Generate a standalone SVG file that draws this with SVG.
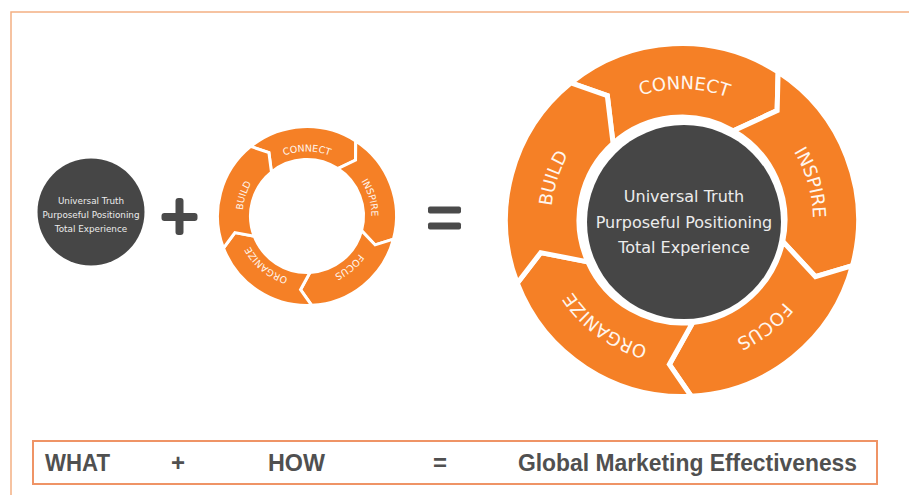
<svg xmlns="http://www.w3.org/2000/svg" width="909" height="495" viewBox="0 0 909 495">
  <style>
    .seg-big { fill: #f58026; stroke: #ffffff; stroke-width: 5; stroke-linejoin: miter; }
    .seg-small { fill: #f58026; stroke: #ffffff; stroke-width: 3; stroke-linejoin: miter; }
    .core { fill: #464646; }
    .core-text { font-family: "DejaVu Sans", Verdana, sans-serif; fill: #ececec; text-anchor: middle; }
    .seg-label-big { font-family: "DejaVu Sans", Verdana, sans-serif; font-size: 18px; fill: #fff6ee; text-anchor: middle; }
    .seg-label-small { font-family: "DejaVu Sans", Verdana, sans-serif; font-size: 9.5px; fill: #fff6ee; text-anchor: middle; }
    .op { fill: #4a4a4a; }
    .eq-text { font-family: "Liberation Sans", Arial, sans-serif; font-weight: bold; font-size: 24px; fill: #505050; }
  </style>
  <defs>
    <!-- baseline circles for the ring labels, starting at the bottom and running clockwise -->
    <path id="arc-big" d="M 682 351 A 131 131 0 0 1 682 89 A 131 131 0 0 1 682 351"/>
    <path id="arc-small" d="M 307 280.5 A 64.5 64.5 0 0 1 307 151.5 A 64.5 64.5 0 0 1 307 280.5"/>
  </defs>

  <rect x="0" y="0" width="909" height="495" fill="#ffffff"/>

  <!-- page frame -->
  <g id="frame" fill="none" stroke="#f4b083" stroke-width="1.5">
    <polyline points="11,495 11,12 909,12"/>
  </g>

  <!-- WHAT: core circle -->
  <g id="what-core">
    <circle class="core" cx="91" cy="212" r="53.5"/>
    <text class="core-text" font-size="8.8" x="91" y="204">Universal Truth</text>
    <text class="core-text" font-size="8.8" x="91" y="217.5">Purposeful Positioning</text>
    <text class="core-text" font-size="8.8" x="91" y="231.5">Total Experience</text>
  </g>

  <!-- plus sign -->
  <g id="plus" class="op">
    <rect x="161.5" y="213" width="36" height="8" rx="3"/>
    <rect x="175.5" y="198" width="8" height="37" rx="3"/>
  </g>

  <!-- HOW: small cycle ring -->
  <g id="how-ring">
    <g id="how-connect">
      <path class="seg-small" d="M 250.68 146.45 A 89.5 89.5 0 0 1 355.74 140.94 L 355.55 160.15 L 337.77 168.61 A 56.5 56.5 0 0 0 271.44 172.09 L 268.89 152.57 Z"/>
      <text class="seg-label-small"><textPath href="#arc-small" startOffset="50%">CONNECT</textPath></text>
    </g>
    <g id="how-inspire">
      <path class="seg-small" d="M 355.74 140.94 A 89.5 89.5 0 0 1 393.45 239.16 L 375.12 244.91 L 361.57 230.62 A 56.5 56.5 0 0 0 337.77 168.61 L 355.55 160.15 Z"/>
      <text class="seg-label-small"><textPath href="#arc-small" startOffset="70.5%">INSPIRE</textPath></text>
    </g>
    <g id="how-focus">
      <path class="seg-small" d="M 393.45 239.16 A 89.5 89.5 0 0 1 311.68 305.37 L 300.55 289.72 L 309.95 272.42 A 56.5 56.5 0 0 0 361.57 230.62 L 375.12 244.91 Z"/>
      <text class="seg-label-small"><textPath href="#arc-small" startOffset="89%">FOCUS</textPath></text>
    </g>
    <g id="how-organize">
      <path class="seg-small" d="M 311.68 305.37 A 89.5 89.5 0 0 1 223.44 248.08 L 234.89 232.65 L 254.25 236.25 A 56.5 56.5 0 0 0 309.95 272.42 L 300.55 289.72 Z"/>
      <text class="seg-label-small"><textPath href="#arc-small" startOffset="11%">ORGANIZE</textPath></text>
    </g>
    <g id="how-build">
      <path class="seg-small" d="M 223.44 248.08 A 89.5 89.5 0 0 1 250.68 146.45 L 268.89 152.57 L 271.44 172.09 A 56.5 56.5 0 0 0 254.25 236.25 L 234.89 232.65 Z"/>
      <text class="seg-label-small"><textPath href="#arc-small" startOffset="30%">BUILD</textPath></text>
    </g>
  </g>

  <!-- equals sign -->
  <g id="equals" class="op">
    <rect x="428" y="206.5" width="33" height="7" rx="2"/>
    <rect x="428" y="222.5" width="33" height="7" rx="2"/>
  </g>

  <!-- RESULT: full cycle around the core -->
  <g id="result-ring">
    <g id="result-connect">
      <path class="seg-big" d="M 570.93 82.84 A 176.5 176.5 0 0 1 778.12 71.97 L 777.13 110.57 L 733.5 130.8 A 103 103 0 0 0 613.08 143.46 L 607.32 95.71 Z"/>
      <text class="seg-label-big"><textPath href="#arc-big" startOffset="50.3%">CONNECT</textPath></text>
    </g>
    <g id="result-inspire">
      <path class="seg-big" d="M 778.12 71.97 A 176.5 176.5 0 0 1 852.48 265.68 L 815.47 276.65 L 782.74 241.41 A 103 103 0 0 0 733.5 130.8 L 777.13 110.57 Z"/>
      <text class="seg-label-big"><textPath href="#arc-big" startOffset="70.5%">INSPIRE</textPath></text>
    </g>
    <g id="result-focus">
      <path class="seg-big" d="M 852.48 265.68 A 176.5 176.5 0 0 1 691.23 396.25 L 669.36 364.45 L 692.76 322.43 A 103 103 0 0 0 782.74 241.41 L 815.47 276.65 Z"/>
      <text class="seg-label-big"><textPath href="#arc-big" startOffset="89.5%">FOCUS</textPath></text>
    </g>
    <g id="result-organize">
      <path class="seg-big" d="M 691.23 396.25 A 176.5 176.5 0 0 1 517.22 283.26 L 540.71 252.63 L 587.91 261.89 A 103 103 0 0 0 692.76 322.43 L 669.36 364.45 Z"/>
      <text class="seg-label-big"><textPath href="#arc-big" startOffset="10%">ORGANIZE</textPath></text>
    </g>
    <g id="result-build">
      <path class="seg-big" d="M 517.22 283.26 A 176.5 176.5 0 0 1 570.93 82.84 L 607.32 95.71 L 613.08 143.46 A 103 103 0 0 0 587.91 261.89 L 540.71 252.63 Z"/>
      <text class="seg-label-big"><textPath href="#arc-big" startOffset="30%">BUILD</textPath></text>
    </g>
    <g id="result-core">
      <circle class="core" cx="684" cy="222" r="97"/>
      <text class="core-text" font-size="16" x="684" y="201.5">Universal Truth</text>
      <text class="core-text" font-size="16" x="684" y="227.5">Purposeful Positioning</text>
      <text class="core-text" font-size="16" x="684" y="253">Total Experience</text>
    </g>
  </g>

  <!-- equation strip -->
  <g id="equation">
    <rect x="33" y="441" width="844" height="43" fill="#ffffff" stroke="#ef9466" stroke-width="2"/>
    <text class="eq-text" x="45" y="471" textLength="65" lengthAdjust="spacingAndGlyphs">WHAT</text>
    <text class="eq-text" x="178" y="471" text-anchor="middle">+</text>
    <text class="eq-text" x="268" y="471" textLength="57" lengthAdjust="spacingAndGlyphs">HOW</text>
    <text class="eq-text" x="440" y="471" text-anchor="middle">=</text>
    <text class="eq-text" x="518" y="471" textLength="339" lengthAdjust="spacingAndGlyphs">Global Marketing Effectiveness</text>
  </g>
</svg>
